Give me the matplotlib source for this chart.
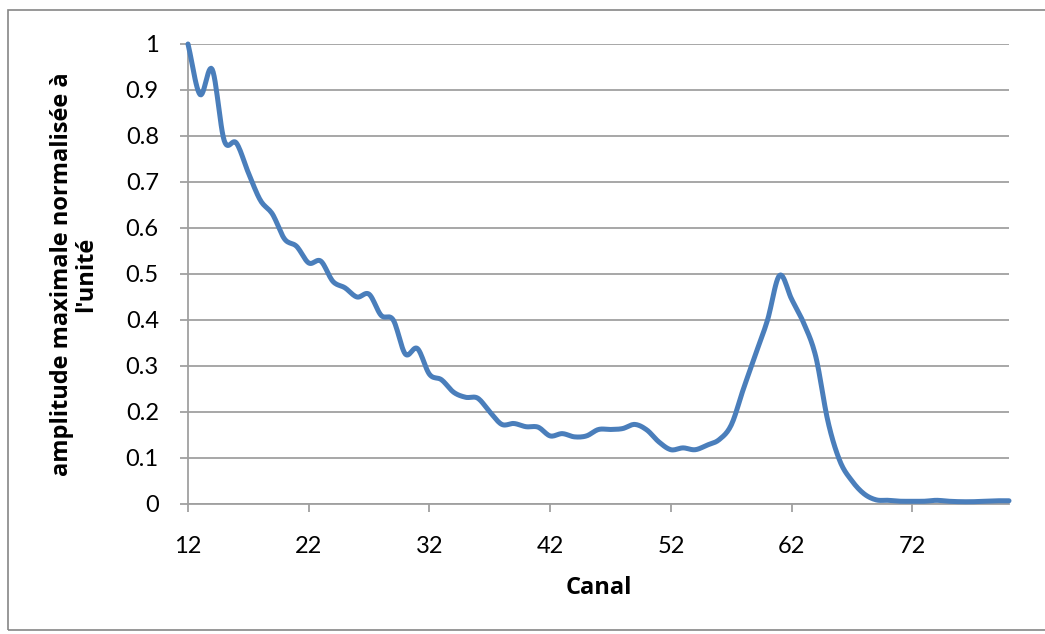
import numpy as np
import matplotlib
matplotlib.use("Agg")
import matplotlib.pyplot as plt
from matplotlib.patches import Rectangle

plt.rcParams['font.family'] = ['Lato', 'DejaVu Sans']

# Data
canal = list(range(12, 81))
amplitude = [
    1.00, 0.89, 0.945, 0.79, 0.785, 0.72, 0.66, 0.63, 0.576, 0.56,   # 12-21
    0.524, 0.528, 0.484, 0.47, 0.45, 0.456, 0.41, 0.40, 0.326, 0.338,  # 22-31
    0.282, 0.27, 0.243, 0.232, 0.23, 0.20, 0.173, 0.175, 0.168, 0.167, # 32-41
    0.148, 0.153, 0.146, 0.148, 0.162, 0.162, 0.164, 0.173, 0.161, 0.135, # 42-51
    0.118, 0.122, 0.118, 0.128, 0.14, 0.172, 0.25, 0.325, 0.40, 0.497,  # 52-61
    0.445, 0.393, 0.32, 0.18, 0.093, 0.05, 0.022, 0.009, 0.008, 0.006,   # 62-71
    0.006, 0.006, 0.008, 0.006, 0.005, 0.005, 0.006, 0.007, 0.007,      # 72-80
]
x_ticks = [12, 22, 32, 42, 52, 62, 72]
y_ticks = [0, 0.1, 0.2, 0.3, 0.4, 0.5, 0.6, 0.7, 0.8, 0.9, 1]
y_ticklabels = ["0", "0.1", "0.2", "0.3", "0.4", "0.5", "0.6", "0.7", "0.8", "0.9", "1"]


def catmull_rom(x, y, n=12):
    x = np.asarray(x, float)
    y = np.asarray(y, float)
    px = np.concatenate([[2 * x[0] - x[1]], x, [2 * x[-1] - x[-2]]])
    py = np.concatenate([[2 * y[0] - y[1]], y, [2 * y[-1] - y[-2]]])
    xs, ys = [], []
    t = np.linspace(0, 1, n, endpoint=False)
    for i in range(1, len(px) - 2):
        p0, p1, p2, p3 = py[i - 1], py[i], py[i + 1], py[i + 2]
        q0, q1, q2, q3 = px[i - 1], px[i], px[i + 1], px[i + 2]
        for arr, a0, a1, a2, a3 in ((ys, p0, p1, p2, p3), (xs, q0, q1, q2, q3)):
            arr.extend(0.5 * ((2 * a1) + (-a0 + a2) * t
                              + (2 * a0 - 5 * a1 + 4 * a2 - a3) * t ** 2
                              + (-a0 + 3 * a1 - 3 * a2 + a3) * t ** 3))
    xs.append(x[-1])
    ys.append(y[-1])
    return np.array(xs), np.array(ys)


W, H = 1045, 634
fig = plt.figure(figsize=(W / 100, H / 100), dpi=100)
fig.patch.set_facecolor("white")

# outer chart border
fig.add_artist(Rectangle((8 / W, 4 / H), 1.2, (630 - 10) / H, transform=fig.transFigure,
                         fill=False, edgecolor="#868686", linewidth=1.2))

left, right, top, bottom = 188, 1009, 44, 504
ax = fig.add_axes([left / W, 1 - bottom / H, (right - left) / W, (bottom - top) / H])

sx, sy = catmull_rom(canal, amplitude)
ax.plot(sx, sy, color="#4A7EBB", linewidth=3.6, solid_capstyle="round", zorder=3, clip_on=False)

ax.set_xlim(canal[0], canal[-1])
ax.set_ylim(0, 1)
ax.set_xticks(x_ticks)
ax.set_xticklabels([str(v) for v in x_ticks])
ax.set_yticks(y_ticks)
ax.set_yticklabels(y_ticklabels)

ax.grid(axis="y", color="#A0A0A0", linewidth=1.3)
ax.set_axisbelow(True)
for s in ("top", "right"):
    ax.spines[s].set_visible(False)
for s in ("left", "bottom"):
    ax.spines[s].set_color("#A0A0A0")
    ax.spines[s].set_linewidth(1.3)

ax.tick_params(axis="both", direction="out", length=6, width=1.3, color="#A0A0A0",
               labelsize=17, labelcolor="#000000")
ax.tick_params(axis="y", pad=15)
ax.tick_params(axis="x", pad=17)

label_font = ['Open Sans', 'DejaVu Sans']
ax.set_xlabel("Canal", fontsize=17, fontweight="bold", family=label_font, labelpad=14)
ax.set_ylabel("amplitude maximale normalisée à\nl'unité", fontsize=17, fontweight="bold",
              family=label_font, labelpad=20, linespacing=1.0)

fig.savefig("out.png", dpi=100)
